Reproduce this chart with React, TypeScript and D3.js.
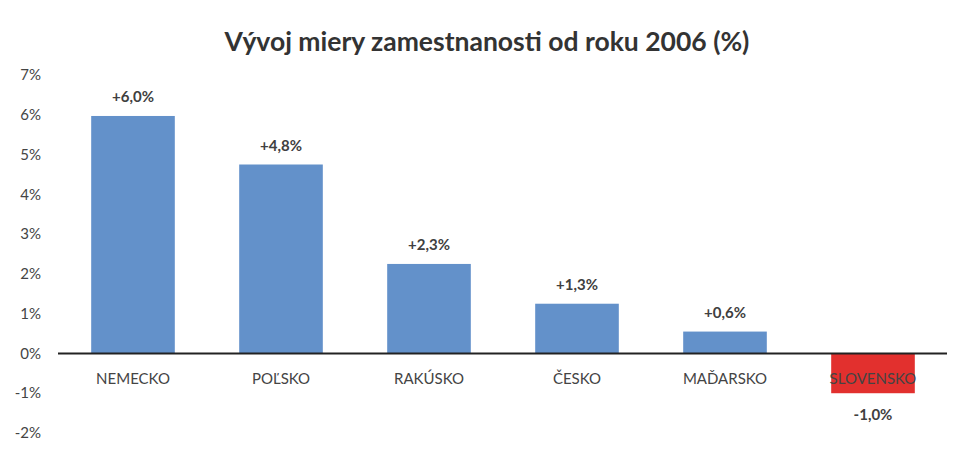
import React, { useEffect, useRef } from 'react';
import * as d3 from 'd3';

const categories = ['NEMECKO', 'POĽSKO', 'RAKÚSKO', 'ČESKO', 'MAĎARSKO', 'SLOVENSKO'];
const values = [5.97, 4.75, 2.25, 1.25, 0.55, -1.0];
const valueLabels = ['+6,0%', '+4,8%', '+2,3%', '+1,3%', '+0,6%', '-1,0%'];
const yTicks = [7, 6, 5, 4, 3, 2, 1, 0, -1, -2];

const width = 970;
const height = 456;
const font = 'Lato, "Open Sans", sans-serif';

const App: React.FC = () => {
  const svgRef = useRef<SVGSVGElement>(null);

  useEffect(() => {
    if (!svgRef.current) return;
    const svg = d3.select(svgRef.current);
    svg.selectAll('*').remove();

    const x = d3.scaleBand().domain(categories).range([59, 947]).paddingInner(0).paddingOuter(0);
    const y = d3.scaleLinear().domain([-2, 7]).range([433, 75]);
    const barW = x.bandwidth() * 0.565;

    svg.append('rect').attr('width', width).attr('height', height).attr('fill', '#fff');

    svg.append('text')
      .attr('x', 487)
      .attr('y', 51)
      .attr('text-anchor', 'middle')
      .style('font-family', font)
      .style('font-size', '26.5px')
      .style('font-weight', 'bold')
      .style('fill', '#333')
      .text('Vývoj miery zamestnanosti od roku 2006 (%)');

    svg.append('g')
      .selectAll('text')
      .data(yTicks)
      .enter()
      .append('text')
      .attr('x', 41)
      .attr('y', d => y(d))
      .attr('dy', '0.35em')
      .attr('text-anchor', 'end')
      .style('font-family', font)
      .style('font-size', '15px')
      .style('fill', '#444')
      .text(d => `${d}%`);

    svg.append('g')
      .selectAll('rect')
      .data(values)
      .enter()
      .append('rect')
      .attr('x', (d, i) => (x(categories[i]) || 0) + (x.bandwidth() - barW) / 2)
      .attr('width', barW)
      .attr('y', d => y(Math.max(0, d)))
      .attr('height', d => Math.abs(y(d) - y(0)))
      .attr('fill', d => (d < 0 ? '#E2302E' : '#6391CA'));

    svg.append('line')
      .attr('x1', 58)
      .attr('x2', 947)
      .attr('y1', y(0))
      .attr('y2', y(0))
      .attr('stroke', '#222')
      .attr('stroke-width', 2);

    svg.append('g')
      .selectAll('text')
      .data(categories)
      .enter()
      .append('text')
      .attr('x', d => (x(d) || 0) + x.bandwidth() / 2)
      .attr('y', y(0) + 31)
      .attr('text-anchor', 'middle')
      .style('font-family', font)
      .style('font-size', '15px')
      .style('fill', '#444')
      .text(d => d);

    svg.append('g')
      .selectAll('text')
      .data(values)
      .enter()
      .append('text')
      .attr('x', (d, i) => (x(categories[i]) || 0) + x.bandwidth() / 2)
      .attr('y', d => (d < 0 ? y(d) + 27 : y(d) - 14))
      .attr('text-anchor', 'middle')
      .style('font-family', font)
      .style('font-size', '15px')
      .style('font-weight', 'bold')
      .style('fill', '#404040')
      .text((d, i) => valueLabels[i]);
  }, []);

  return (
    <svg
      ref={svgRef}
      width={width}
      height={height}
      style={{ position: 'absolute', left: 0, top: 0, display: 'block' }}
    />
  );
};

export default App;
